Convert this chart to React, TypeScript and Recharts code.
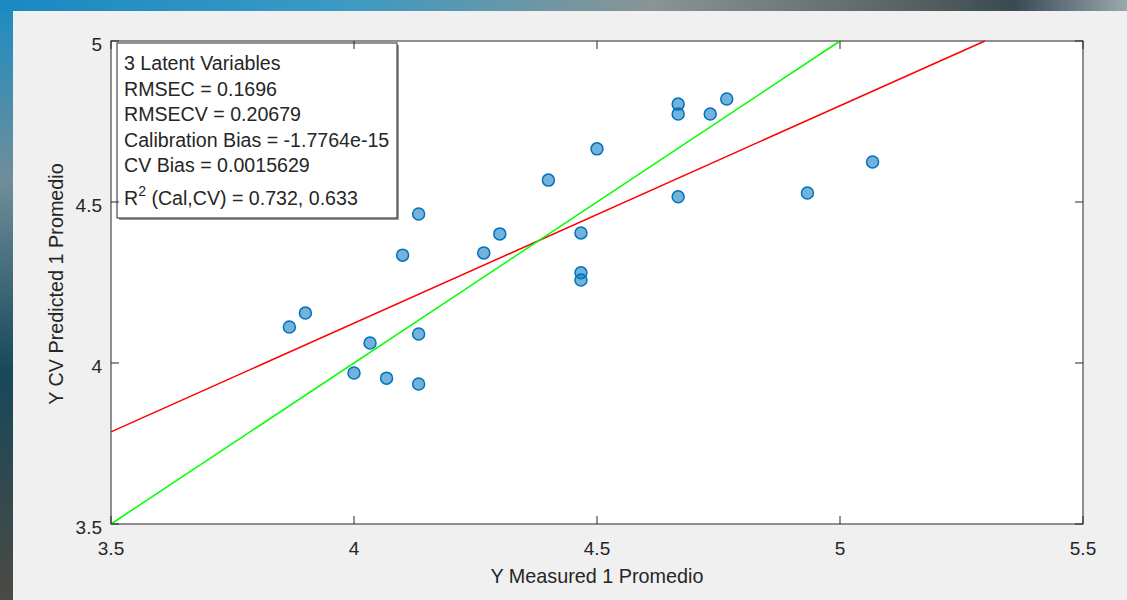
import React from 'react';
import {
  ScatterChart,
  Scatter,
  XAxis,
  YAxis,
  ReferenceLine,
  Customized,
} from 'recharts';

interface Sample {
  x: number;
  y: number;
}

// measured vs CV-predicted values
const measured = [
  3.867, 3.9, 4.0, 4.033, 4.067, 4.1, 4.133, 4.133, 4.133, 4.267, 4.3, 4.4,
  4.467, 4.467, 4.467, 4.5, 4.667, 4.667, 4.667, 4.733, 4.767, 4.933, 5.067,
];
const predicted = [
  4.112, 4.155, 3.969, 4.062, 3.953, 4.335, 4.463, 4.09, 3.935, 4.342, 4.401,
  4.568, 4.404, 4.28, 4.258, 4.665, 4.804, 4.773, 4.516, 4.773, 4.82, 4.528,
  4.624,
];

const xTicks = [3.5, 4, 4.5, 5, 5.5];
const yTicks = [3.5, 4, 4.5, 5];

// fit line (red) and 1:1 line (green), endpoints
const fitLine = [
  { x: 3.5, y: 3.786 },
  { x: 5.298, y: 5.0 },
];
const idealLine = [
  { x: 3.5, y: 3.5 },
  { x: 5.0, y: 5.0 },
];

const statLines = [
  '3 Latent Variables',
  'RMSEC = 0.1696',
  'RMSECV = 0.20679',
  'Calibration Bias = -1.7764e-15',
  'CV Bias = 0.0015629',
];
const r2Text = ' (Cal,CV) = 0.732, 0.633';

const samples: Sample[] = measured.map((x, i) => ({ x, y: predicted[i] }));

const FONT = '"Liberation Sans", Arial, Helvetica, sans-serif';
const TXT = '#262626';

// plot box, in px
const PL = 111;
const PT = 41;
const PW = 972;
const PH = 483;
const TICK = 8;

const StatsBox = () => (
  <g fontFamily={FONT} fill={TXT}>
    <rect x={PL} y={PT} width={PW} height={PH} fill="none" stroke={TXT} strokeWidth={1} />
    <rect x={119} y={45} width={280} height={175} fill="#9a9a9a" />
    <rect x={117} y={43} width={280} height={175} fill="#fff" stroke={TXT} strokeWidth={1} />
    <g fontSize={19.6}>
      {statLines.map((t, i) => (
        <text key={i} x={124} y={70 + i * 25.6}>
          {t}
        </text>
      ))}
      <text x={124} y={205}>
        R
        <tspan fontSize={14} dy={-9}>2</tspan>
        <tspan dy={9}>{r2Text}</tspan>
      </text>
    </g>
    <g fontSize={19.8}>
      <text x={597} y={583} textAnchor="middle">
        Y Measured 1 Promedio
      </text>
      <text x={0} y={0} textAnchor="middle" transform="translate(63,284) rotate(-90)">
        Y CV Predicted 1 Promedio
      </text>
    </g>
  </g>
);

const XTick = (props: any) => {
  const x = props.x;
  return (
    <g>
      <line x1={x} y1={PT + PH} x2={x} y2={PT + PH - TICK} stroke={TXT} />
      <line x1={x} y1={PT} x2={x} y2={PT + TICK} stroke={TXT} />
      <text x={x} y={PT + PH + 31} textAnchor="middle" fontSize={19} fontFamily={FONT} fill={TXT}>
        {props.payload.value}
      </text>
    </g>
  );
};

const YTick = (props: any) => {
  const y = props.y;
  return (
    <g>
      <line x1={PL} y1={y} x2={PL + TICK} y2={y} stroke={TXT} />
      <line x1={PL + PW} y1={y} x2={PL + PW - TICK} y2={y} stroke={TXT} />
      <text x={102} y={y + 10} textAnchor="end" fontSize={19} fontFamily={FONT} fill={TXT}>
        {props.payload.value}
      </text>
    </g>
  );
};

const Dot = (props: any) => (
  <circle
    cx={props.cx}
    cy={props.cy}
    r={6}
    fill="#0072BD"
    fillOpacity={0.55}
    stroke="#0072BD"
    strokeWidth={1.5}
  />
);

export default function App() {
  return (
    <div
      style={{
        position: 'absolute',
        left: 0,
        top: 0,
        width: 1127,
        height: 600,
        overflow: 'hidden',
        background: 'linear-gradient(to bottom, #1a8cc4 0%, #6f8e9a 30%, #17485a 62%, #4c4a44 100%)',
      }}
    >
      <div
        style={{
          position: 'absolute',
          left: 0,
          top: 0,
          width: 1127,
          height: 11,
          background:
            'linear-gradient(to right, #1a88c2 0%, #3a9ac4 30%, #8a9494 58%, #5a6464 80%, #3a4a52 90%, #9aa8b0 100%)',
        }}
      />
      <div
        style={{
          position: 'absolute',
          left: 13,
          top: 11,
          width: 1114,
          height: 589,
          background: '#f0f0f0',
        }}
      />
      <div
        style={{
          position: 'absolute',
          left: PL,
          top: PT,
          width: PW,
          height: PH,
          background: '#fff',
        }}
      />
      <div style={{ position: 'absolute', left: 0, top: 0 }}>
        <ScatterChart
          width={1127}
          height={600}
          margin={{ top: PT, right: 1127 - PL - PW, bottom: 46, left: 51 }}
        >
          <XAxis
            dataKey="x"
            type="number"
            domain={[3.5, 5.5]}
            ticks={xTicks}
            interval={0}
            allowDataOverflow
            height={30}
            tickSize={0}
            tickMargin={0}
            tickLine={false}
            tick={XTick}
            axisLine={false}
          />
          <YAxis
            dataKey="y"
            type="number"
            domain={[3.5, 5]}
            ticks={yTicks}
            interval={0}
            allowDataOverflow
            width={60}
            tickSize={0}
            tickMargin={0}
            tickLine={false}
            tick={YTick}
            axisLine={false}
          />
          <ReferenceLine segment={fitLine} stroke="#ff0000" strokeWidth={1.5} ifOverflow="visible" />
          <ReferenceLine segment={idealLine} stroke="#00ff00" strokeWidth={1.5} ifOverflow="visible" />
          <Scatter data={samples} shape={Dot} isAnimationActive={false} />
          <Customized component={StatsBox} />
        </ScatterChart>
      </div>
    </div>
  );
}
